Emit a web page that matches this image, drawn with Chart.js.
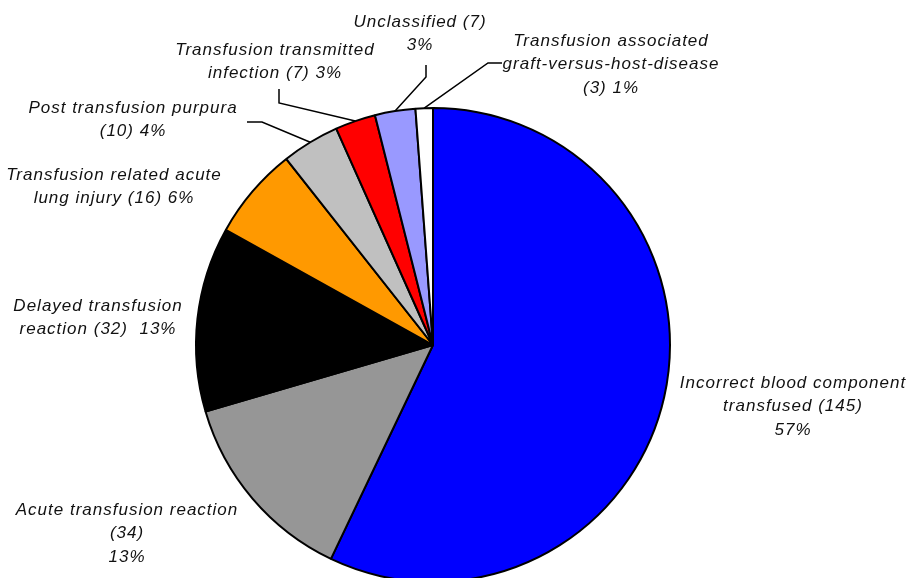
<!DOCTYPE html>
<html>
<head>
<meta charset="utf-8">
<script src="https://cdn.jsdelivr.net/npm/chart.js@4/dist/chart.umd.min.js"></script>
<style>
    html, body { margin: 0; padding: 0; background: #fff; overflow: hidden; }
    #wrap { width: 908px; height: 578px; overflow: hidden; }
</style>
</head>
<body>
<div id="wrap"><canvas id="grafico" width="908" height="600"></canvas></div>
<script>
// dados (sentido horario a partir do topo)
const categorias = [
    'Incorrect blood component transfused',
    'Acute transfusion reaction',
    'Delayed transfusion reaction',
    'Transfusion related acute lung injury',
    'Post transfusion purpura',
    'Transfusion transmitted infection',
    'Unclassified',
    'Transfusion associated graft-versus-host-disease'
];
const casos = [145, 34, 32, 16, 10, 7, 7, 3];
const cores = ['#0000ff', '#969696', '#000000', '#ff9900', '#c0c0c0', '#ff0000', '#9999ff', '#ffffff'];

// textos dos rotulos, {n} = casos, {p} = percentual
const rotulos = [
    ['Incorrect blood component', 'transfused ({n})', '{p}%'],
    ['Acute transfusion reaction', '({n})', '{p}%'],
    ['Delayed transfusion', 'reaction ({n})  {p}%'],
    ['Transfusion related acute', 'lung injury ({n}) {p}%'],
    ['Post transfusion purpura', '({n}) {p}%'],
    ['Transfusion transmitted', 'infection ({n}) {p}%'],
    ['Unclassified ({n})', '{p}%'],
    ['Transfusion associated', 'graft-versus-host-disease', '({n}) {p}%']
];

// posicao dos rotulos (centro x, y da primeira linha) e linhas de chamada
const posicoes = [
    { x: 793, y: 383 },
    { x: 127, y: 510 },
    { x: 98, y: 306 },
    { x: 114, y: 175 },
    { x: 133, y: 108, linha: [[262, 122], [247, 122]] },
    { x: 275, y: 50, linha: [[279, 103], [279, 89]] },
    { x: 420, y: 22, linha: [[426, 77], [426, 65]] },
    { x: 611, y: 41, linha: [[488, 63], [502, 63]] }
];

const total = casos.reduce((a, b) => a + b, 0);

const pluginRotulos = {
    id: 'rotulos',
    afterDraw(chart) {
        const ctx = chart.ctx;
        const arcos = chart.getDatasetMeta(0).data;
        ctx.save();
        ctx.font = 'italic 17px "Liberation Sans", Arial, sans-serif';
        ctx.letterSpacing = '1px';
        ctx.fillStyle = '#111';
        ctx.textAlign = 'center';
        ctx.textBaseline = 'middle';
        rotulos.forEach((linhas, i) => {
            const pos = posicoes[i];
            const p = Math.round(casos[i] / total * 100);
            linhas.forEach((t, j) => {
                const txt = t.replace('{n}', casos[i]).replace('{p}', p);
                ctx.fillText(txt, pos.x, pos.y + j * 23.5);
            });
            if (pos.linha) {
                const a = arcos[i];
                const meio = (a.startAngle + a.endAngle) / 2;
                const r = a.outerRadius;
                ctx.beginPath();
                ctx.moveTo(a.x + Math.cos(meio) * r, a.y + Math.sin(meio) * r);
                pos.linha.forEach(pt => ctx.lineTo(pt[0], pt[1]));
                ctx.strokeStyle = '#000';
                ctx.lineWidth = 1.5;
                ctx.stroke();
            }
        });
        ctx.restore();
    }
};

const ctx = document.getElementById('grafico').getContext('2d');
new Chart(ctx, {
    type: 'pie',
    data: {
        labels: categorias,
        datasets: [{
            data: casos,
            backgroundColor: cores,
            borderColor: '#000',
            borderWidth: 2
        }]
    },
    options: {
        responsive: false,
        animation: false,
        layout: { padding: { left: 195, right: 237, top: 107, bottom: 17 } },
        plugins: {
            legend: { display: false },
            tooltip: { enabled: false }
        }
    },
    plugins: [pluginRotulos]
});
</script>
</body>
</html>
